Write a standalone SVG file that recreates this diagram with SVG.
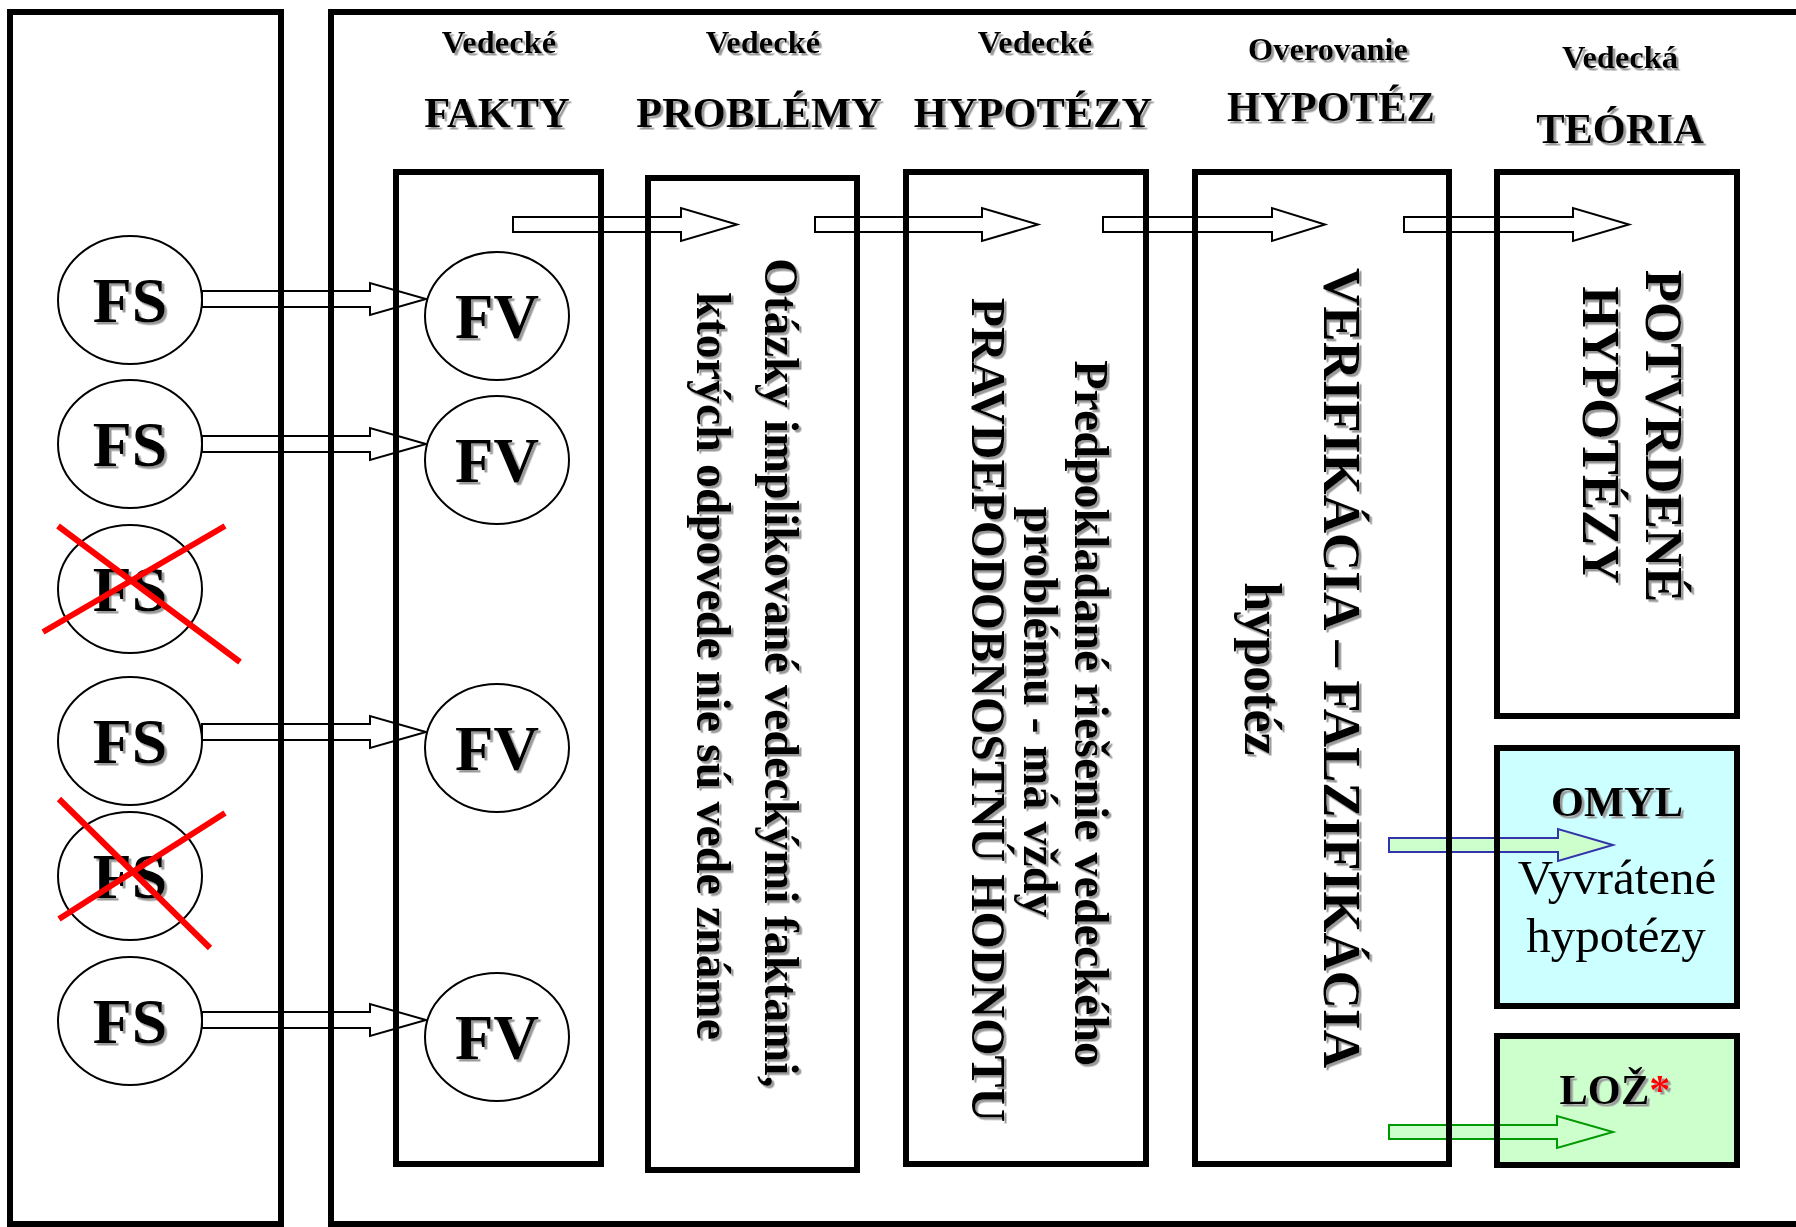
<svg xmlns="http://www.w3.org/2000/svg" width="1796" height="1227" viewBox="0 0 1796 1227">
<defs>
<style>
.t{font-family:"Liberation Serif","Times New Roman",serif;fill:#000}
.b{font-weight:bold}
.s32{font-size:32.5px}
.s42{font-size:42.5px}
.s48{font-size:48px}
.s52{font-size:52px}
.s53{font-size:53px}
.s49{font-size:49px}
.s64{font-size:64px}
.s63{font-size:63px}
.box{fill:none;stroke:#000;stroke-width:6}
.ell{fill:#fff;stroke:#000;stroke-width:2}
.arr{fill:#fff;stroke:#000;stroke-width:2;stroke-linejoin:miter}
.x{stroke:#ff0000;stroke-width:6;stroke-linecap:butt}
</style>
<filter id="sh" x="-5%" y="-5%" width="115%" height="115%">
<feDropShadow dx="2.5" dy="2.5" stdDeviation="0.5" flood-color="#9a9a9a" flood-opacity="1"/>
</filter>
</defs>
<rect width="1796" height="1227" fill="#fff"/>

<!-- background fills -->
<g id="fills">
<rect x="1497" y="748" width="240" height="258" fill="#ccffff"/>
<rect x="1497" y="1036" width="240" height="129" fill="#ccffcc"/>
</g>

<!-- connectors -->
<g id="connectors">
<polygon class="arr" points="513,217 681,217 681,208 737,224.5 681,241 681,232 513,232"/>
<polygon class="arr" points="815,217 982,217 982,208 1038,224.5 982,241 982,232 815,232"/>
<polygon class="arr" points="1103,217 1272,217 1272,208 1325,224.5 1272,241 1272,232 1103,232"/>
<polygon class="arr" points="1404,217 1573,217 1573,208 1629,224.5 1573,241 1573,232 1404,232"/>
<polygon class="arr" points="202,291 370,291 370,283 426,299 370,315 370,307 202,307"/>
<polygon class="arr" points="202,436 370,436 370,428 426,444 370,460 370,452 202,452"/>
<polygon class="arr" points="202,724 370,724 370,716 426,732 370,748 370,740 202,740"/>
<polygon class="arr" points="202,1012 370,1012 370,1004 426,1020 370,1036 370,1028 202,1028"/>
<polygon points="1389,838 1558,838 1558,829 1613,845 1558,861 1558,852 1389,852" fill="#ccffcc" stroke="#3333aa" stroke-width="2"/>
<polygon points="1389,1125 1557,1125 1557,1116 1613,1132 1557,1148 1557,1139 1389,1139" fill="#ccffcc" stroke="#009900" stroke-width="2"/>
</g>

<!-- outer frames -->
<g id="zdroj">
<rect class="box" x="10" y="12" width="271" height="1212"/>
</g>
<g id="veda">
<rect class="box" x="331" y="12" width="1520" height="1212"/>
</g>

<!-- FS nodes -->
<g id="fs1"><ellipse class="ell" cx="130" cy="300" rx="72" ry="64"/><text class="t b s64" x="130" y="322" text-anchor="middle" filter="url(#sh)">FS</text></g>
<g id="fs2"><ellipse class="ell" cx="130" cy="444" rx="72" ry="64"/><text class="t b s64" x="130" y="466" text-anchor="middle" filter="url(#sh)">FS</text></g>
<g id="fs3"><ellipse class="ell" cx="130" cy="589" rx="72" ry="64"/><text class="t b s64" x="130" y="611" text-anchor="middle" filter="url(#sh)">FS</text>
<line class="x" x1="58" y1="526" x2="240" y2="662"/><line class="x" x1="43" y1="632" x2="225" y2="526"/></g>
<g id="fs4"><ellipse class="ell" cx="130" cy="741" rx="72" ry="64"/><text class="t b s64" x="130" y="763" text-anchor="middle" filter="url(#sh)">FS</text></g>
<g id="fs5"><ellipse class="ell" cx="130" cy="876" rx="72" ry="64"/><text class="t b s64" x="130" y="898" text-anchor="middle" filter="url(#sh)">FS</text>
<line class="x" x1="59" y1="799" x2="210" y2="948"/><line class="x" x1="59" y1="919" x2="225" y2="813"/></g>
<g id="fs6"><ellipse class="ell" cx="130" cy="1021" rx="72" ry="64"/><text class="t b s64" x="130" y="1043" text-anchor="middle" filter="url(#sh)">FS</text></g>

<!-- column: FAKTY -->
<g id="fakty">
<rect class="box" x="396" y="172" width="205" height="992"/>
<text class="t b s32" x="499" y="53" text-anchor="middle" filter="url(#sh)">Vedecké</text>
<text class="t b s42" x="497" y="127" text-anchor="middle" filter="url(#sh)">FAKTY</text>
</g>
<g id="fv1"><ellipse class="ell" cx="497" cy="316" rx="72" ry="64"/><text class="t b s63" x="497" y="338" text-anchor="middle" filter="url(#sh)">FV</text></g>
<g id="fv2"><ellipse class="ell" cx="497" cy="460" rx="72" ry="64"/><text class="t b s63" x="497" y="482" text-anchor="middle" filter="url(#sh)">FV</text></g>
<g id="fv4"><ellipse class="ell" cx="497" cy="748" rx="72" ry="64"/><text class="t b s63" x="497" y="770" text-anchor="middle" filter="url(#sh)">FV</text></g>
<g id="fv6"><ellipse class="ell" cx="497" cy="1037" rx="72" ry="64"/><text class="t b s63" x="497" y="1059" text-anchor="middle" filter="url(#sh)">FV</text></g>

<!-- column: PROBLÉMY -->
<g id="problemy">
<rect class="box" x="648" y="178" width="209" height="992"/>
<text class="t b s32" x="763" y="53" text-anchor="middle" filter="url(#sh)">Vedecké</text>
<text class="t b s42" x="759" y="127" text-anchor="middle" filter="url(#sh)">PROBLÉMY</text>
<g filter="url(#sh)">
<text class="t b s48" transform="translate(765,673) rotate(90)" text-anchor="middle">Otázky implikované vedeckými faktami,</text>
<text class="t b s48" transform="translate(697,666) rotate(90)" text-anchor="middle">ktorých odpovede nie sú vede známe</text>
</g>
</g>

<!-- column: HYPOTÉZY -->
<g id="hypotezy">
<rect class="box" x="906" y="172" width="240" height="992"/>
<text class="t b s32" x="1035" y="53" text-anchor="middle" filter="url(#sh)">Vedecké</text>
<text class="t b s42" x="1033" y="127" text-anchor="middle" filter="url(#sh)">HYPOTÉZY</text>
<g filter="url(#sh)">
<text class="t b s48" transform="translate(1075,713) rotate(90)" text-anchor="middle">Predpokladané riešenie vedeckého</text>
<text class="t b s48" transform="translate(1024,712) rotate(90)" text-anchor="middle">problému - má vždy</text>
<text class="t b s48" transform="translate(972,710) rotate(90)" text-anchor="middle">PRAVDEPODOBNOSTNÚ HODNOTU</text>
</g>
</g>

<!-- column: Overovanie -->
<g id="overovanie">
<rect class="box" x="1195" y="172" width="254" height="992"/>
<text class="t b s32" x="1328" y="60" text-anchor="middle" filter="url(#sh)">Overovanie</text>
<text class="t b s42" x="1331" y="121" text-anchor="middle" filter="url(#sh)">HYPOTÉZ</text>
<g filter="url(#sh)">
<text class="t b s53" transform="translate(1324,668) rotate(90)" text-anchor="middle">VERIFIKÁCIA – FALZIFIKÁCIA</text>
<text class="t b s52" transform="translate(1245,669) rotate(90)" text-anchor="middle">hypotéz</text>
</g>
</g>

<!-- column: TEÓRIA -->
<g id="teoria">
<rect class="box" x="1497" y="172" width="240" height="544"/>
<text class="t b s32" x="1620" y="68" text-anchor="middle" filter="url(#sh)">Vedecká</text>
<text class="t b s42" x="1620" y="143" text-anchor="middle" filter="url(#sh)">TEÓRIA</text>
<g filter="url(#sh)">
<text class="t b s53" transform="translate(1646,436) rotate(90)" text-anchor="middle">POTVRDENÉ</text>
<text class="t b s53" transform="translate(1583,435) rotate(90)" text-anchor="middle">HYPOTÉZY</text>
</g>
</g>

<!-- OMYL -->
<g id="omyl">
<rect class="box" x="1497" y="748" width="240" height="258"/>
<text class="t b s42" x="1617" y="816" text-anchor="middle" filter="url(#sh)">OMYL</text>
<text class="t s49" x="1617" y="894" text-anchor="middle">Vyvrátené</text>
<text class="t s49" x="1616" y="952" text-anchor="middle">hypotézy</text>
</g>

<!-- LOŽ -->
<g id="loz">
<rect class="box" x="1497" y="1036" width="240" height="129"/>
<text class="t b s42" x="1615" y="1104" text-anchor="middle" filter="url(#sh)">LOŽ<tspan fill="#ff0000">*</tspan></text>
</g>
</svg>
